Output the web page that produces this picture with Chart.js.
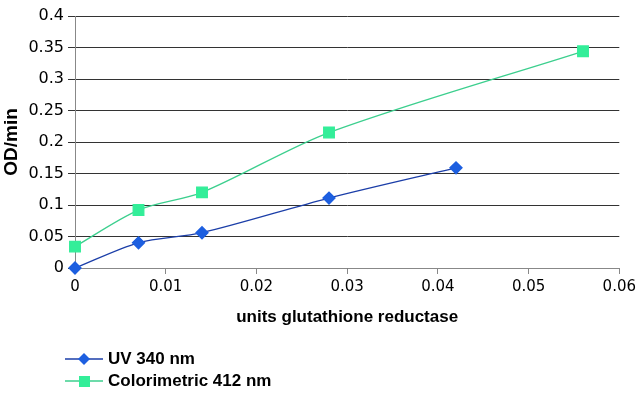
<!DOCTYPE html>
<html>
<head>
<meta charset="utf-8">
<script src="https://cdn.jsdelivr.net/npm/chart.js@4/dist/chart.umd.min.js"></script>
<style>
  html, body { margin: 0; padding: 0; background: #fff; }
  #wrap { position: relative; width: 640px; height: 393px; }
  #legend { position: absolute; left: 65px; top: 348px; font: bold 17px "Liberation Sans", Arial, sans-serif; color: #000; }
  .item { display: flex; align-items: center; height: 22px; }
  .item svg { margin-right: 5px; }
</style>
</head>
<body>
<div id="wrap">
  <canvas id="chart" width="640" height="393"></canvas>
  <div id="legend"></div>
</div>
<script>
const FONT = "'Liberation Sans', Arial, sans-serif";
const TICKFONT = "'DejaVu Sans', sans-serif";

const seriesNames = ["UV 340 nm", "Colorimetric 412 nm"];
const uvX = [0, 0.007, 0.014, 0.028, 0.042];
const uvY = [0, 0.04, 0.056, 0.111, 0.159];
const colX = [0, 0.007, 0.014, 0.028, 0.056];
const colY = [0.034, 0.092, 0.12, 0.215, 0.344];

const lineColors = ["#1b3ea8", "#3ccf8e"];
const markColors = ["#1d5fe0", "#33ee99"];
const markShapes = ["rectRot", "rect"];

function points(xs, ys) {
    return xs.map((x, i) => ({ x: x, y: ys[i] }));
}

// 0.40 -> 0.4, 0.10 -> 0.1
const trim = v => String(Number(v.toFixed(2)));

const datasets = [points(uvX, uvY), points(colX, colY)].map((data, i) => ({
    label: seriesNames[i],
    data: data,
    borderColor: lineColors[i],
    borderWidth: 1.3,
    backgroundColor: markColors[i],
    pointBackgroundColor: markColors[i],
    pointBorderColor: markColors[i],
    pointStyle: markShapes[i],
    pointRadius: i === 0 ? 6 : 7.5,
    tension: 0.3,
    clip: false,
    fill: false
}));

new Chart(document.getElementById("chart"), {
    type: "line",
    data: { datasets: datasets },
    options: {
        responsive: false,
        animation: false,
        layout: { padding: { top: 16, right: 20, bottom: 62, left: 0 } },
        plugins: { legend: { display: false }, tooltip: { enabled: false } },
        scales: {
            x: {
                type: "linear",
                min: 0,
                max: 0.06,
                ticks: { stepSize: 0.01, color: "#000", font: { family: TICKFONT, size: 15 }, padding: 4,
                         callback: trim },
                grid: { drawOnChartArea: false, drawTicks: true, tickLength: 6, color: "#888" },
                border: { color: "#888" },
                title: { display: true, text: "units glutathione reductase", color: "#000",
                         font: { family: FONT, size: 17, weight: "bold" }, padding: { top: 6, bottom: 3 } },
                afterFit: s => { s.height = 63; }
            },
            y: {
                min: 0,
                max: 0.4,
                ticks: { stepSize: 0.05, color: "#000", font: { family: TICKFONT, size: 16 }, padding: 4,
                         callback: trim },
                grid: { color: "#333", tickLength: 7 },
                border: { color: "#888" },
                title: { display: true, text: "OD/min", color: "#000",
                         font: { family: FONT, size: 19, weight: "bold" }, padding: 0 },
                afterFit: s => { s.width = 75; }
            }
        }
    }
});

// legend, stacked vertically like the original
const legend = document.getElementById("legend");
seriesNames.forEach((name, i) => {
    const mark = i === 0
        ? '<polygon points="19,5 25,11 19,17 13,11" fill="' + markColors[i] + '"/>'
        : '<rect x="14" y="6" width="11" height="11" fill="' + markColors[i] + '"/>';
    legend.innerHTML += '<div class="item"><svg width="38" height="22">' +
        '<line x1="0" y1="11" x2="38" y2="11" stroke="' + lineColors[i] + '" stroke-width="1.3"/>' +
        mark + '</svg>' + name + '</div>';
});
</script>
</body>
</html>
